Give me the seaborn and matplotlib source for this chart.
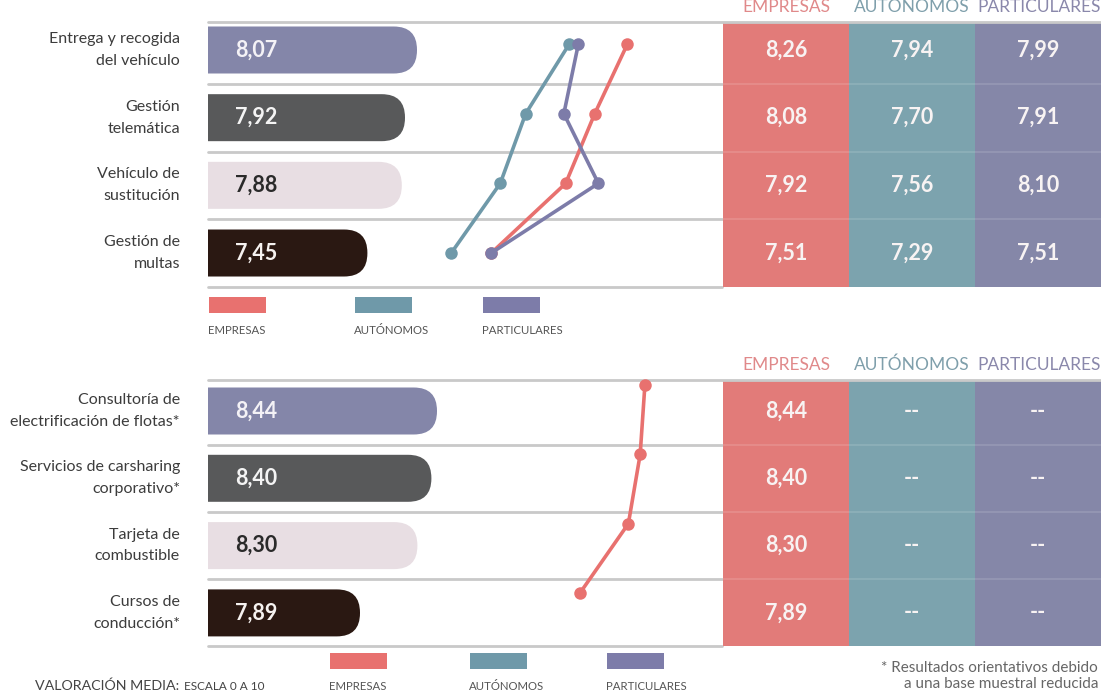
import matplotlib
matplotlib.use("Agg")
import matplotlib.pyplot as plt
import seaborn as sns
import pandas as pd
from matplotlib.patches import FancyBboxPatch, Rectangle

# ---------------- data ----------------
groups = ["EMPRESAS", "AUTÓNOMOS", "PARTICULARES"]

top_labels = ["Entrega y recogida\ndel vehículo", "Gestión\ntelemática",
              "Vehículo de\nsustitución", "Gestión de\nmultas"]
top_mean = [8.07, 7.92, 7.88, 7.45]
top_empresas = [8.26, 8.08, 7.92, 7.51]
top_autonomos = [7.94, 7.70, 7.56, 7.29]
top_particulares = [7.99, 7.91, 8.10, 7.51]

bot_labels = ["Consultoría de\nelectrificación de flotas*", "Servicios de carsharing\ncorporativo*",
              "Tarjeta de\ncombustible", "Cursos de\nconducción*"]
bot_mean = [8.44, 8.40, 8.30, 7.89]
bot_empresas = [8.44, 8.40, 8.30, 7.89]
bot_autonomos = [None, None, None, None]
bot_particulares = [None, None, None, None]

# ---------------- style ----------------
sns.set_theme(style="white")
plt.rcParams["font.family"] = ["Lato", "DejaVu Sans"]

W, H = 1101, 691
fig = plt.figure(figsize=(W / 100, H / 100), dpi=100)
fig.patch.set_facecolor("white")

bar_colors = ["#8486a9", "#58595a", "#e8dee3", "#2a1812"]
bar_text_colors = ["#f4f2f6", "#f4f4f4", "#2a2a2a", "#f6f2f0"]
line_colors = {"EMPRESAS": "#e8716f", "AUTÓNOMOS": "#6f99a9", "PARTICULARES": "#7d7ca9"}
table_colors = ["#e27b79", "#7ca3ae", "#8587a8"]
header_colors = ["#e0898a", "#7f9fab", "#8a88ab"]
grid_color = "#c9c9c9"
label_color = "#3c3c3c"


def px_axes(x0, y0, x1, y1):
    ax = fig.add_axes([x0 / W, 1 - y1 / H, (x1 - x0) / W, (y1 - y0) / H])
    ax.set_axis_off()
    return ax


def row_ylim(ax, y_top, y_bot, row0, step):
    ax.set_ylim((y_bot - row0) / step, (y_top - row0) / step)


def fmt(v):
    return "--" if v is None else f"{v:.2f}".replace(".", ",")


def section(y_top, y_bot, row0, step, labels, means, series, bar_k, bar_ref,
            line_k, line_ref, line_row0, line_step):
    X0, X1 = 208, 722
    # ---- rounded bars (seaborn barplot) ----
    ax = px_axes(X0, y_top, X1, y_bot)
    df = pd.DataFrame({"label": labels, "value": means})
    bar_h = 47 / step
    sns.barplot(data=df, x="value", y="label", hue="label", palette=bar_colors,
                legend=False, orient="h", width=bar_h, saturation=1, ax=ax)
    left = bar_ref[0] - (bar_ref[1] - X0) / bar_k
    ax.set_xlim(left, left + (X1 - X0) / bar_k)
    row_ylim(ax, y_top, y_bot, row0, step)
    ax.set_axis_off()
    m = bar_k / step
    for p in list(ax.patches):
        x, y, w, h = p.get_x(), p.get_y(), p.get_width(), p.get_height()
        fc = p.get_facecolor()
        p.remove()
        r = 0.5 * abs(h) * step / bar_k * 0.99
        ax.add_patch(FancyBboxPatch((x, y), w, h, boxstyle=f"round,pad=0,rounding_size={r}",
                                    mutation_aspect=m, fc=fc, ec="none", zorder=2))
    ylo, yhi = ax.get_ylim()
    for yy in [yhi, 0.5, 1.5, 2.5, ylo]:
        ax.axhline(yy, color=grid_color, lw=2, clip_on=False, zorder=1)
    for i, (lab, v) in enumerate(zip(labels, means)):
        ax.text(27 / (X1 - X0), i, fmt(v), transform=ax.get_yaxis_transform(),
                ha="left", va="center", fontsize=15.5, fontweight="bold",
                color=bar_text_colors[i], zorder=3)
        ax.text(-28 / (X1 - X0), i, lab, transform=ax.get_yaxis_transform(),
                ha="right", va="center", fontsize=11.5, color=label_color,
                linespacing=1.7, multialignment="right")

    # ---- line chart (seaborn lineplot) ----
    ax2 = px_axes(X0, y_top, X1, y_bot)
    rows, vals, grp = [], [], []
    for g, s in zip(groups, series):
        for i, v in enumerate(s):
            if v is not None:
                rows.append(i)
                vals.append(v)
                grp.append(g)
    ldf = pd.DataFrame({"row": rows, "value": vals, "group": grp})
    sns.lineplot(data=ldf, x="value", y="row", hue="group", units="group",
                 palette=line_colors, sort=False, estimator=None, marker="o",
                 markersize=9, markeredgewidth=0, linewidth=2.6, legend=False, ax=ax2)
    lleft = line_ref[0] - (line_ref[1] - X0) / line_k
    ax2.set_xlim(lleft, lleft + (X1 - X0) / line_k)
    row_ylim(ax2, y_top, y_bot, line_row0, line_step)
    ax2.set_axis_off()
    for ln in ax2.lines:
        ln.set_clip_on(False)

    # ---- table ----
    ax3 = px_axes(723, y_top, W, y_bot)
    ax3.set_xlim(0, 3)
    row_ylim(ax3, y_top, y_bot, row0, step)
    ax3.set_axis_off()
    for j, c in enumerate(table_colors):
        ax3.axvspan(j, j + 1, color=c, lw=0, zorder=1)
    ylo, yhi = ax3.get_ylim()
    ax3.axhline(yhi, color=grid_color, lw=2, clip_on=False, zorder=3)
    for yy in [0.5, 1.5, 2.5]:
        ax3.axhline(yy, color="white", lw=1.5, alpha=0.12, zorder=2)
    for j, s in enumerate(series):
        for i, v in enumerate(s):
            ax3.text(j + 0.5, i, fmt(v), ha="center", va="center", fontsize=15.5,
                     fontweight="bold", color="#f8f3f3", zorder=4)


section(22, 287, 50, 67.67, top_labels, top_mean,
        [top_empresas, top_autonomos, top_particulares],
        bar_k=80, bar_ref=(8.07, 417), line_k=181.7, line_ref=(7.814, 546.4),
        line_row0=44, line_step=69.7)

section(380, 646, 411, 67.3, bot_labels, bot_mean,
        [bot_empresas, bot_autonomos, bot_particulares],
        bar_k=140, bar_ref=(8.44, 437), line_k=118, line_ref=(7.89, 580),
        line_row0=385, line_step=69.33)

# ---------------- headers ----------------
col_centers = [786, 912, 1039]
for cy in [7, 365]:
    for g, cx, c in zip(groups, col_centers, header_colors):
        fig.text(cx / W, 1 - cy / H, g, ha="center", va="center", fontsize=12.5, color=c)


# ---------------- legends ----------------
def legend(xs, sw_y, lab_y, sw_w=57, sw_h=16):
    for g, x, c in zip(groups, xs, list(line_colors.values())):
        fig.patches.append(Rectangle((x / W, 1 - (sw_y + sw_h) / H), sw_w / W, sw_h / H,
                                     transform=fig.transFigure, fc=c, ec="none"))
        fig.text((x - 1) / W, 1 - lab_y / H, g, ha="left", va="center", fontsize=8.2,
                 color="#555555")


legend([209, 355, 483], 297, 331)
legend([330, 470, 607], 653, 686)

fig.text(35 / W, 1 - 690 / H, "VALORACIÓN MEDIA:", ha="left", va="baseline",
         fontsize=10.3, color="#444444")
fig.text(184 / W, 1 - 690 / H, "ESCALA 0 A 10", ha="left", va="baseline",
         fontsize=8.5, color="#444444")
fig.text(1098 / W, 1 - 676 / H, "* Resultados orientativos debido\na una base muestral reducida",
         ha="right", va="center", fontsize=11, color="#666666", linespacing=1.15,
         multialignment="right")

fig.savefig("out.png", dpi=100, facecolor="white")
